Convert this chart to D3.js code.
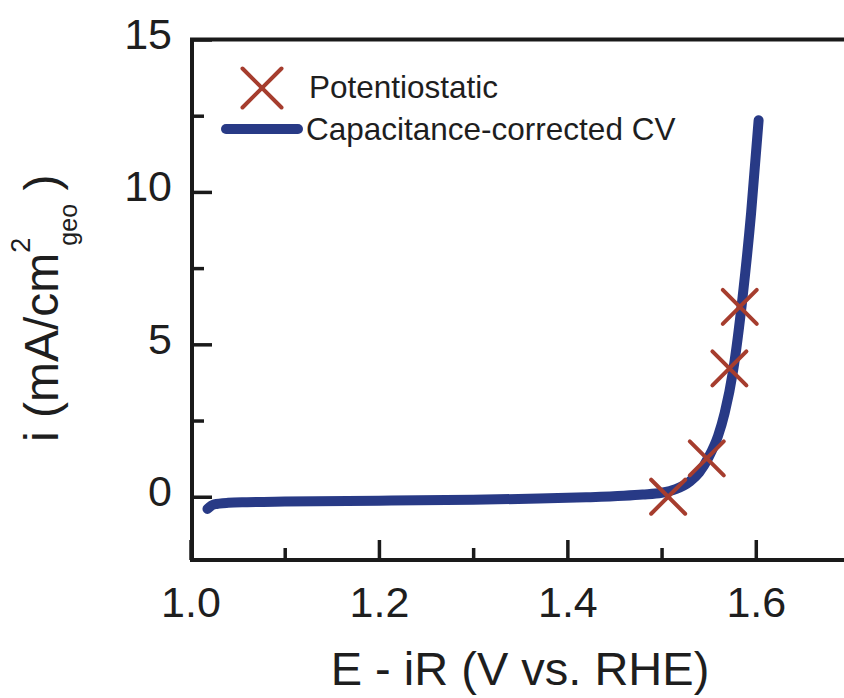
<!DOCTYPE html>
<html>
<head>
<meta charset="utf-8">
<script src="https://cdn.jsdelivr.net/npm/d3@7/dist/d3.min.js"></script>
<style>
  html, body { margin: 0; padding: 0; background: #fff; }
  svg { display: block; }
  text { font-family: "Liberation Sans", Arial, Helvetica, sans-serif; fill: #1e1e1e; }
</style>
</head>
<body>
<svg id="chart" width="844" height="698"></svg>
<script>
// Capacitance-corrected CV trace: potential (V vs. RHE) and current density (mA/cm²)
const cvPotential = [1.018, 1.025, 1.04, 1.06, 1.10, 1.20, 1.30, 1.37, 1.42, 1.46, 1.48, 1.50, 1.515, 1.53, 1.54, 1.55, 1.56, 1.567, 1.576, 1.586, 1.595, 1.603];
const cvCurrent   = [-0.40, -0.25, -0.20, -0.18, -0.16, -0.13, -0.10, -0.06, -0.02, 0.03, 0.07, 0.13, 0.25, 0.50, 0.80, 1.30, 2.00, 2.75, 4.15, 6.55, 9.30, 12.35];

// Potentiostatic measurements
const potPotential = [1.507, 1.548, 1.572, 1.583];
const potCurrent   = [0.00, 1.26, 4.21, 6.23];

// Axis ticks
const xMajorTicks = [1.0, 1.2, 1.4, 1.6];
const xMinorTicks = [1.1, 1.3, 1.5];
const yMajorTicks = [0, 5, 10, 15];
const yMinorTicks = [2.5, 7.5, 12.5];

const curveColor = "#283a86";
const markerColor = "#a63d2e";
const axisColor = "#1a1a1a";

const svg = d3.select("#chart");

const x = d3.scaleLinear().domain([1.0, 1.7]).range([190.5, 850]);
const y = d3.scaleLinear().domain([-2, 15]).range([557.7, 39.5]);

const frameLeft = 192, frameTop = 39.5, frameBottom = 560, frameRight = 850;

// Frame
svg.append("path")
  .attr("d", `M${frameRight},${frameTop}H${frameLeft}V${frameBottom}H${frameRight}`)
  .attr("fill", "none")
  .attr("stroke", axisColor)
  .attr("stroke-width", 4);

// Bottom axis (ticks pointing inward)
const xAxis = d3.axisBottom(x).tickValues(xMajorTicks).tickSize(-20).tickFormat(d3.format(".1f"));
const gx = svg.append("g").attr("transform", `translate(0,${frameBottom})`).call(xAxis);
gx.select(".domain").remove();
gx.selectAll(".tick line").attr("stroke", axisColor).attr("stroke-width", 3.5);
gx.selectAll(".tick text")
  .attr("y", 57).attr("dy", 0)
  .style("font-size", "43px")
  .style("font-family", "'Liberation Sans', Arial, sans-serif")
  .attr("fill", "#1e1e1e");

const gxm = svg.append("g").attr("transform", `translate(0,${frameBottom})`)
  .call(d3.axisBottom(x).tickValues(xMinorTicks).tickSize(-12).tickFormat(""));
gxm.select(".domain").remove();
gxm.selectAll(".tick line").attr("stroke", axisColor).attr("stroke-width", 3.5);

// Left axis
const yAxis = d3.axisLeft(y).tickValues(yMajorTicks).tickSize(-20).tickPadding(20).tickFormat(d3.format("d"));
const gy = svg.append("g").attr("transform", `translate(${frameLeft},0)`).call(yAxis);
gy.select(".domain").remove();
gy.selectAll(".tick line").attr("stroke", axisColor).attr("stroke-width", 3.5);
gy.selectAll(".tick text")
  .attr("x", -20).attr("dy", "0.32em")
  .attr("transform", "translate(0,-5)")
  .style("font-size", "43px")
  .style("font-family", "'Liberation Sans', Arial, sans-serif")
  .attr("fill", "#1e1e1e");

const gym = svg.append("g").attr("transform", `translate(${frameLeft},0)`)
  .call(d3.axisLeft(y).tickValues(yMinorTicks).tickSize(-12).tickFormat(""));
gym.select(".domain").remove();
gym.selectAll(".tick line").attr("stroke", axisColor).attr("stroke-width", 3.5);

// CV curve
const cvData = cvPotential.map((e, k) => ({ e, i: cvCurrent[k] }));
const line = d3.line().x(d => x(d.e)).y(d => y(d.i)).curve(d3.curveMonotoneX);
svg.append("path")
  .datum(cvData)
  .attr("d", line)
  .attr("fill", "none")
  .attr("stroke", curveColor)
  .attr("stroke-width", 10)
  .attr("stroke-linecap", "round")
  .attr("stroke-linejoin", "round");

// Cross markers
function cross(g, cx, cy, h, w) {
  g.append("path")
    .attr("d", `M${cx - h},${cy - h}L${cx + h},${cy + h}M${cx - h},${cy + h}L${cx + h},${cy - h}`)
    .attr("stroke", markerColor)
    .attr("stroke-width", w)
    .attr("stroke-linecap", "round")
    .attr("fill", "none");
}
const potData = potPotential.map((e, k) => ({ e, i: potCurrent[k] }));
const gm = svg.append("g");
potData.forEach(d => cross(gm, x(d.e), y(d.i), 17, 4));

// Legend
const lg = svg.append("g");
cross(lg, 262, 88, 19.5, 4);
lg.append("text").attr("x", 309).attr("y", 98).style("font-size", "31.5px").text("Potentiostatic");
lg.append("line")
  .attr("x1", 226).attr("x2", 298).attr("y1", 129).attr("y2", 129)
  .attr("stroke", curveColor).attr("stroke-width", 10).attr("stroke-linecap", "round");
lg.append("text").attr("x", 306).attr("y", 140).style("font-size", "31.5px").text("Capacitance-corrected CV");

// Axis titles
svg.append("text")
  .attr("x", 520).attr("y", 685)
  .attr("text-anchor", "middle")
  .style("font-size", "47px")
  .text("E - iR (V vs. RHE)");

const yt = svg.append("text")
  .attr("transform", "translate(58,442) rotate(-90)")
  .attr("x", 0).attr("y", 0)
  .style("font-size", "48px");
yt.append("tspan").text("i (mA/cm");
yt.append("tspan").attr("dy", -28).style("font-size", "27px").text("2");
yt.append("tspan").attr("dx", -8).attr("dy", 47).style("font-size", "25px").text("geo");
yt.append("tspan").attr("dy", -19).text(" )");
</script>
</body>
</html>
